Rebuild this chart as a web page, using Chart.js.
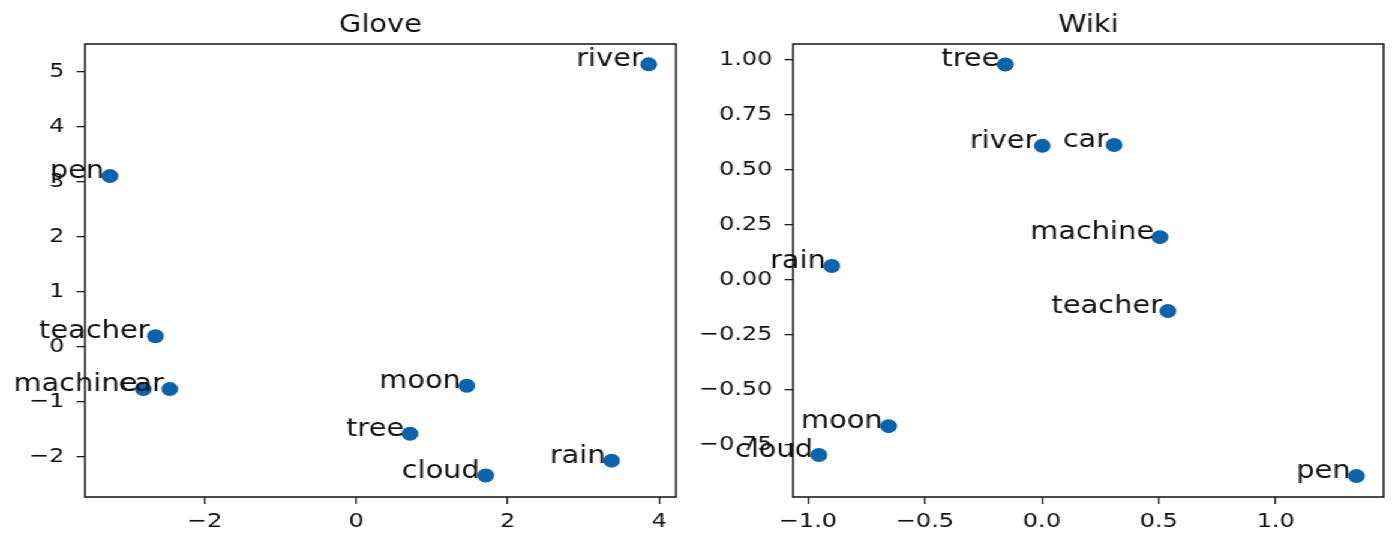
<!DOCTYPE html>
<html>
<head>
<meta charset="utf-8">
<script src="https://cdn.jsdelivr.net/npm/chart.js@4.4.1/dist/chart.umd.min.js"></script>
<style>
  html, body { margin: 0; padding: 0; background: #ffffff; overflow: hidden; }
  #wrap { position: absolute; left: 0; top: 0; width: 1160px; height: 536px;
          transform: scaleX(1.2); transform-origin: 0 0; display: flex; }
  canvas { display: block; }
</style>
</head>
<body>
<div id="wrap">
  <canvas id="glove" width="580" height="536"></canvas>
  <canvas id="wiki" width="580" height="536"></canvas>
</div>
<script>
// ---- data ----
const gloveWords = ['river', 'pen', 'teacher', 'machine', 'car', 'moon', 'tree', 'cloud', 'rain'];
const gloveX = [3.86, -3.25, -2.65, -2.81, -2.46, 1.46, 0.71, 1.71, 3.37];
const gloveY = [5.13, 3.10, 0.19, -0.77, -0.77, -0.71, -1.58, -2.34, -2.07];

const wikiWords = ['tree', 'river', 'car', 'machine', 'rain', 'teacher', 'moon', 'cloud', 'pen'];
const wikiX = [-0.156, 0.002, 0.309, 0.505, -0.898, 0.539, -0.655, -0.953, 1.345];
const wikiY = [0.98, 0.61, 0.614, 0.195, 0.064, -0.141, -0.664, -0.795, -0.891];

const gloveXTicks = [-2, 0, 2, 4];
const gloveXTickLabels = ['\u22122', '0', '2', '4'];
const gloveYTicks = [-2, -1, 0, 1, 2, 3, 4, 5];
const gloveYTickLabels = ['\u22122', '\u22121', '0', '1', '2', '3', '4', '5'];

const wikiXTicks = [-1, -0.5, 0, 0.5, 1];
const wikiXTickLabels = ['\u22121.0', '\u22120.5', '0.0', '0.5', '1.0'];
const wikiYTicks = [-0.75, -0.5, -0.25, 0, 0.25, 0.5, 0.75, 1];
const wikiYTickLabels = ['\u22120.75', '\u22120.50', '\u22120.25', '0.00', '0.25', '0.50', '0.75', '1.00'];

// ---- styling ----
const FONT = "'DejaVu Sans', sans-serif";
const TEXT = '#111111';
const DOT = '#0b62ad';

const frameAndLabels = {
  id: 'frameAndLabels',
  afterDatasetsDraw(chart, args, opts) {
    const ctx = chart.ctx;
    const a = chart.chartArea;
    ctx.save();
    ctx.strokeStyle = '#1e1e1e';
    ctx.lineWidth = 1.6;
    ctx.strokeRect(a.left, a.top, a.right - a.left, a.bottom - a.top);
    ctx.fillStyle = TEXT;
    ctx.font = '24px ' + FONT;
    ctx.textAlign = 'right';
    ctx.textBaseline = 'alphabetic';
    const meta = chart.getDatasetMeta(0);
    meta.data.forEach((pt, i) => {
      ctx.fillText(opts.words[i], pt.x - 5, pt.y + 2);
    });
    ctx.restore();
  }
};

function makeChart(id, title, xs, ys, words, xr, yr, xt, xl, yt, yl, yWidth, padRight) {
  const pts = xs.map((x, i) => ({ x: x, y: ys[i] }));
  return new Chart(document.getElementById(id), {
    type: 'scatter',
    data: { datasets: [{ data: pts, backgroundColor: DOT, borderWidth: 0, pointRadius: 7, pointHoverRadius: 7 }] },
    plugins: [frameAndLabels],
    options: {
      responsive: false,
      animation: false,
      devicePixelRatio: 1,
      layout: { padding: { left: 0, right: padRight, top: 0, bottom: 0 } },
      plugins: {
        legend: { display: false },
        tooltip: { enabled: false },
        title: { display: true, text: title, fullSize: false, color: TEXT,
                 font: { family: FONT, size: 24, weight: 'normal' }, padding: { top: 11, bottom: 4.2 } },
        frameAndLabels: { words: words }
      },
      scales: {
        x: {
          type: 'linear', min: xr[0], max: xr[1],
          afterBuildTicks: (s) => { s.ticks = xt.map(v => ({ value: v })); },
          afterFit: (s) => { s.height = 39; },
          border: { display: false },
          grid: { display: true, drawOnChartArea: false, drawTicks: true, tickLength: 7, color: '#1e1e1e', lineWidth: 1.3 },
          ticks: { color: TEXT, font: { family: FONT, size: 20 }, padding: 6, maxRotation: 0, autoSkip: false,
                   callback: (v) => xl[xt.indexOf(v)] }
        },
        y: {
          type: 'linear', min: yr[0], max: yr[1],
          afterBuildTicks: (s) => { s.ticks = yt.map(v => ({ value: v })); },
          afterFit: (s) => { s.width = yWidth; },
          border: { display: false },
          grid: { display: true, drawOnChartArea: false, drawTicks: true, tickLength: 7, color: '#1e1e1e', lineWidth: 1.3 },
          ticks: { color: TEXT, font: { family: FONT, size: 20 }, padding: 10, autoSkip: false,
                   callback: (v) => yl[yt.indexOf(v)] }
        }
      }
    }
  });
}

makeChart('glove', 'Glove', gloveX, gloveY, gloveWords, [-3.58, 4.22], [-2.73, 5.50],
          gloveXTicks, gloveXTickLabels, gloveYTicks, gloveYTickLabels, 70.8, 16.7);
makeChart('wiki', 'Wiki', wikiX, wikiY, wikiWords, [-1.064, 1.461], [-0.986, 1.073],
          wikiXTicks, wikiXTickLabels, wikiYTicks, wikiYTickLabels, 80.8, 5.8);
</script>
</body>
</html>
